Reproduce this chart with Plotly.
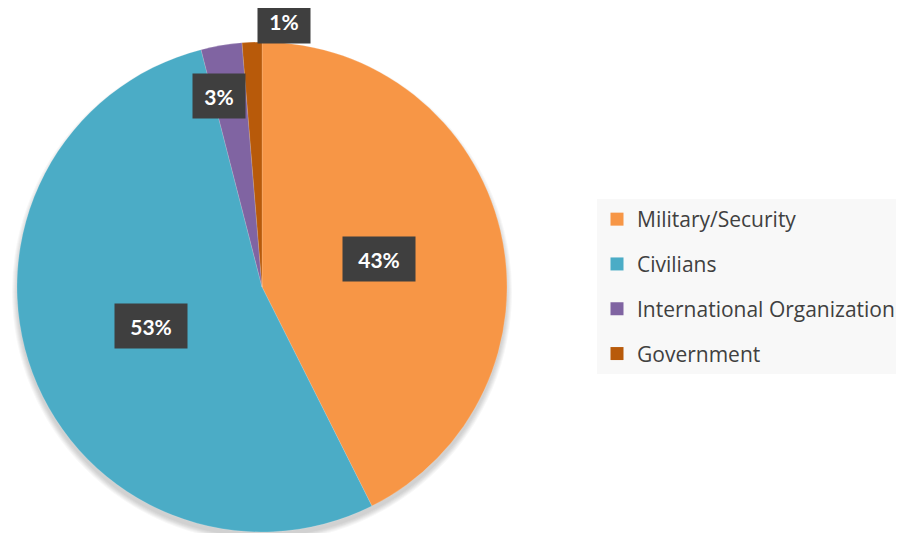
import math
import plotly.graph_objects as go

categories = ["Military/Security", "Civilians", "International Organization", "Government"]
values = [42.6, 53.4, 2.7, 1.3]
colors = ["#F79646", "#4BACC6", "#8064A2", "#B85A0A"]

W, H = 904, 533
OFF = 8  # page body margin offset
CX, CY, R = 262 - OFF, 287 - OFF, 245  # pie centre / radius in figure pixels

fig = go.Figure()

# soft drop shadow behind the pie
for k in range(6):
    rr = R + k
    dy = 5
    fig.add_shape(
        type="circle", xref="paper", yref="paper", layer="below",
        x0=(CX - rr) / W, x1=(CX + rr) / W,
        y0=1 - (CY + dy + rr) / H, y1=1 - (CY + dy - rr) / H,
        fillcolor="rgba(0,0,0,0.03)", line=dict(width=0),
    )

fig.add_trace(go.Pie(
    labels=categories, values=values, sort=False, direction="clockwise", rotation=0,
    marker=dict(colors=colors, line=dict(color="rgba(255,255,255,0.3)", width=0.5)),
    textinfo="none", hoverinfo="label+percent", showlegend=False,
    domain=dict(x=[(CX - R) / W, (CX + R) / W], y=[(H - CY - R) / H, (H - CY + R) / H]),
))

# legend entries
for cat, col in zip(categories, colors):
    fig.add_trace(go.Scatter(
        x=[None], y=[None], mode="markers", name=cat, legendgroup=cat,
        marker=dict(symbol="square", size=13, color=col),
    ))

# data labels (dark boxes) placed at slice angles
total = sum(values)
rad_f = [0.49, 0.48, 0.8, 1.09]
ang_off = [0, 1, -3, 7]
box_w = [70, 70, 50, 50]
cum = 0
for i, v in enumerate(values):
    mid = (cum + v / 2) / total * 360 + ang_off[i]
    cum += v
    t = math.radians(mid)
    px = CX + R * rad_f[i] * math.sin(t)
    py = CY - R * rad_f[i] * math.cos(t)
    fig.add_annotation(
        x=px / W, y=1 - py / H, xref="paper", yref="paper", showarrow=False,
        xanchor="center", yanchor="middle",
        text="<b>%d%%</b>" % round(v / total * 100),
        font=dict(family="Lato, Open Sans, sans-serif", size=21, color="white"),
        bgcolor="#3f3f3f", width=box_w[i], height=42, align="center", valign="middle",
    )

fig.update_layout(
    width=W, height=H, margin=dict(l=0, r=0, t=0, b=0),
    paper_bgcolor="white", plot_bgcolor="white",
    xaxis=dict(visible=False), yaxis=dict(visible=False),
    legend=dict(
        x=(597 - OFF) / W, y=1 - (199 - OFF) / H, xanchor="left", yanchor="top",
        bgcolor="#f8f8f8", tracegroupgap=14.5,
        font=dict(family="Open Sans, sans-serif", size=21, color="#404040"),
        itemclick=False, itemdoubleclick=False,
    ),
)
fig.write_html("out.html")
